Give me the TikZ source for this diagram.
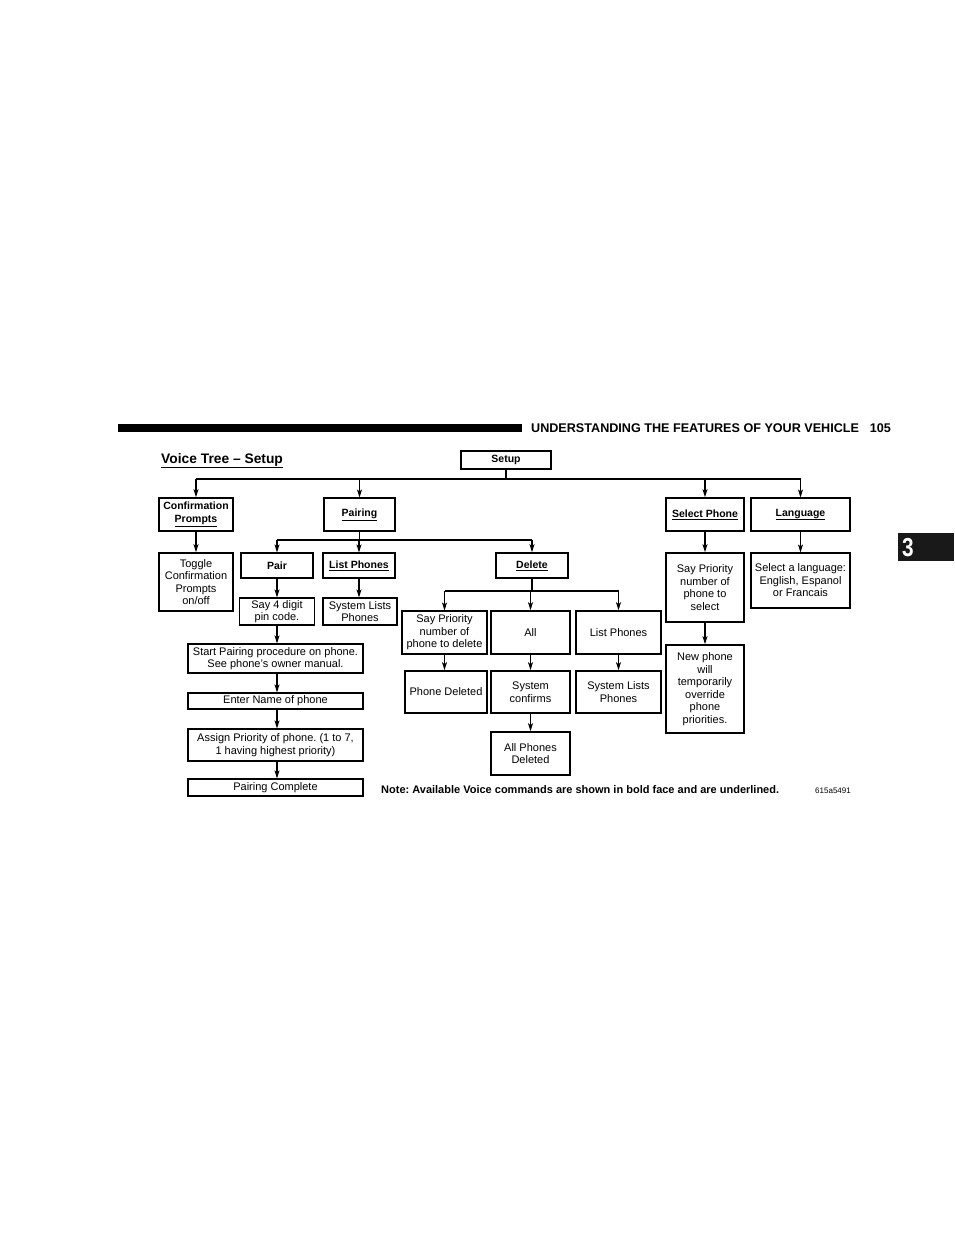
\documentclass[tikz,border=0pt]{standalone}
\usepackage{fontspec}
\setmainfont{Liberation Sans}
\usepackage{tikz}
\usetikzlibrary{arrows.meta}
\frenchspacing
\def\vcmd#1{\underline{#1}}

\begin{document}
\begin{tikzpicture}[x=1pt,y=-1pt]
  \tikzstyle{box}=[draw,line width=1.1pt,align=center,inner sep=1pt,
    font=\fontsize{11}{12.5}\selectfont]
  \tikzstyle{thickbox}=[box,line width=1.7pt]
  \tikzstyle{cmd}=[font=\fontsize{10.5}{12.5}\selectfont\bfseries]
  \tikzstyle{arr}=[line width=1.1pt,-{Stealth[length=8pt,width=5pt,inset=2pt]}]
  \tikzstyle{bus}=[line width=1.3pt]
  \useasboundingbox (0,0) rectangle (954,1235);

  % page header
  \fill (118,424) rectangle (522,432);
  \node[anchor=base west,inner sep=0,font=\fontsize{12.6}{14}\selectfont\bfseries]
    (head) at (531,432) {UNDERSTANDING THE FEATURES OF YOUR VEHICLE};
  \node[anchor=base east,inner sep=0,font=\fontsize{12.6}{14}\selectfont\bfseries]
    (page) at (891,432) {105};
  \fill[black!90] (898,533) rectangle (954,561);
  \node[text=white,xscale=0.8,font=\fontsize{26}{28}\selectfont\bfseries] (tab) at (908,547.5) {3};

  \node[anchor=base west,inner sep=0,font=\fontsize{13.8}{15}\selectfont\bfseries]
    (title) at (161,463) {\vcmd{Voice Tree -- Setup}};

  % first level
  \node[box,cmd,minimum width=90,minimum height=18] (setup) at (506,460) {Setup};
  \node[thickbox,cmd,minimum width=74,minimum height=33] (conf) at (196,514.5)
    {Confirmation\\\vcmd{Prompts}};
  \node[box,cmd,minimum width=71,minimum height=33] (pairing) at (359.5,514.5) {\vcmd{Pairing}};
  \node[thickbox,cmd,minimum width=78,minimum height=33] (selphone) at (705,514.5) {\vcmd{Select Phone}};
  \node[box,cmd,minimum width=99,minimum height=33] (language) at (800.5,514.5) {\vcmd{Language}};

  % second level
  \node[thickbox,minimum width=74,minimum height=58] (toggle) at (196,582)
    {Toggle\\Confirmation\\Prompts\\on/off};
  \node[box,cmd,minimum width=72,minimum height=25] (pair) at (277,565.5) {Pair};
  \node[box,cmd,minimum width=72,minimum height=25] (listph) at (359,565.5) {\vcmd{List Phones}};
  \node[thickbox,cmd,minimum width=72,minimum height=25] (delete) at (532,565.5) {\vcmd{Delete}};
  \node[thickbox,minimum width=78,minimum height=69] (saysel) at (705,587.5)
    {Say Priority\\number of\\phone to\\select};
  \node[box,minimum width=99,minimum height=55] (sellang) at (800.5,580.5)
    {Select a language:\\English, Espanol\\or Francais};

  % pairing branch
  \node[box,minimum width=75,minimum height=27] (pin) at (277,611.5) {Say 4 digit\\pin code.};
  \node[box,minimum width=74,minimum height=27] (syslist) at (360,611.5) {System Lists\\Phones};
  \node[box,minimum width=175,minimum height=29] (start) at (275.5,658.5)
    {Start Pairing procedure on phone.\\See phone's owner manual.};
  \node[box,minimum width=175,minimum height=16,inner sep=0] (entername) at (275.5,701) {Enter Name of phone};
  \node[box,minimum width=175,minimum height=32] (assign) at (275.5,745)
    {Assign Priority of phone. (1 to 7,\\1 having highest priority)};
  \node[box,minimum width=175,minimum height=17,inner sep=0] (complete) at (275.5,787.5) {Pairing Complete};

  % delete branch
  \node[box,minimum width=85,minimum height=43] (saydel) at (444.5,632.5)
    {Say Priority\\number of\\phone to delete};
  \node[thickbox,minimum width=79,minimum height=43] (all) at (530.5,632.5) {All};
  \node[thickbox,minimum width=85,minimum height=43] (listph2) at (618.5,632.5) {List Phones};
  \node[thickbox,minimum width=82,minimum height=42] (deleted) at (446,692) {Phone Deleted};
  \node[thickbox,minimum width=79,minimum height=42] (sysconf) at (530.5,692) {System\\confirms};
  \node[thickbox,minimum width=85,minimum height=42] (syslist2) at (618.5,692) {System Lists\\Phones};
  \node[thickbox,minimum width=79,minimum height=43] (alldel) at (530.5,753.5) {All Phones\\Deleted};

  % select phone branch
  \node[thickbox,minimum width=78,minimum height=88] (newph) at (705,689)
    {New phone\\will\\temporarily\\override\\phone\\priorities.};

  % connectors
  \coordinate (bus1) at (506,479);
  \draw[bus] (setup.south) -- (bus1);
  \draw[bus] (conf.north |- bus1) -- (language.north |- bus1);
  \foreach \n in {conf,pairing,selphone,language}
    \draw[arr] (\n.north |- bus1) -- (\n.north);

  \coordinate (bus2) at (359.5,540);
  \draw[bus] (pairing.south) -- (bus2);
  \draw[bus] (pair.north |- bus2) -- (delete.north |- bus2);
  \foreach \n in {pair,listph,delete}
    \draw[arr] (\n.north |- bus2) -- (\n.north);

  \coordinate (bus3) at (532,591);
  \draw[bus] (delete.south) -- (bus3);
  \draw[bus] (saydel.north |- bus3) -- (listph2.north |- bus3);
  \foreach \n in {saydel,all,listph2}
    \draw[arr] (\n.north |- bus3) -- (\n.north);

  \draw[arr] (conf.south) -- (conf.south |- toggle.north);
  \draw[arr] (pair.south) -- (pair.south |- pin.north);
  \draw[arr] (listph.south) -- (listph.south |- syslist.north);
  \draw[arr] (pin.south) -- (pin.south |- start.north);
  \draw[arr] (start.south -| pin) -- (pin |- entername.north);
  \draw[arr] (entername.south -| pin) -- (pin |- assign.north);
  \draw[arr] (assign.south -| pin) -- (pin |- complete.north);
  \draw[arr] (saydel.south) -- (saydel.south |- deleted.north);
  \draw[arr] (all.south) -- (all.south |- sysconf.north);
  \draw[arr] (listph2.south) -- (listph2.south |- syslist2.north);
  \draw[arr] (sysconf.south) -- (sysconf.south |- alldel.north);
  \draw[arr] (selphone.south) -- (selphone.south |- saysel.north);
  \draw[arr] (saysel.south) -- (saysel.south |- newph.north);
  \draw[arr] (language.south) -- (language.south |- sellang.north);

  % footnote
  \node[anchor=base west,inner sep=0,font=\fontsize{11}{13}\selectfont\bfseries]
    (note) at (381,793) {Note: Available Voice commands are shown in bold face and are underlined.};
  \node[anchor=base east,inner sep=0,font=\fontsize{8}{9}\selectfont]
    (code) at (851,793) {615a5491};
\end{tikzpicture}
\end{document}
